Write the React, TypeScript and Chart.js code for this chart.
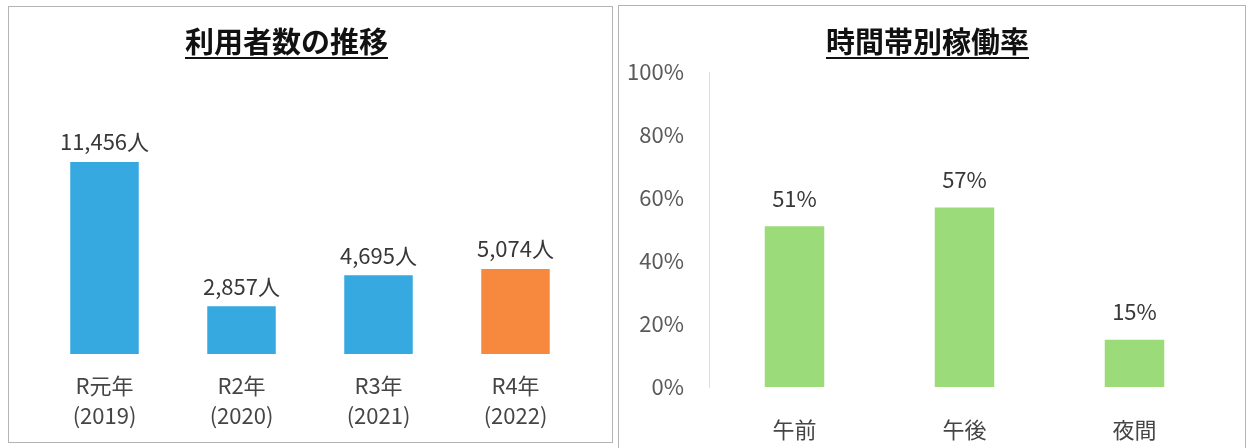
import React, { useEffect, useRef } from "react";
import { Chart, registerables } from "chart.js";

Chart.register(...registerables);

const FONT = '"Noto Sans CJK JP", "Noto Sans", sans-serif';

// Left chart: users per year
const userTitle = "利用者数の推移";
const userCategories: string[][] = [
  ["R元年", "(2019)"],
  ["R2年", "(2020)"],
  ["R3年", "(2021)"],
  ["R4年", "(2022)"],
];
const userValues = [11456, 2857, 4695, 5074];
const userColors = ["#36A9E1", "#36A9E1", "#36A9E1", "#F7893F"];
const userMax = 14000;

// Right chart: utilisation rate by time band
const rateTitle = "時間帯別稼働率";
const rateCategories = ["午前", "午後", "夜間"];
const rateValues = [51, 57, 15];
const rateColor = "#9BDB7A";
const rateTicks = [0, 20, 40, 60, 80, 100];

function valueLabelPlugin(fmt: (v: number) => string, offset: number) {
  return {
    id: "valueLabels",
    afterDatasetsDraw(chart: any) {
      const ctx = chart.ctx;
      const meta = chart.getDatasetMeta(0);
      const data = chart.data.datasets[0].data as number[];
      ctx.save();
      ctx.font = `22px ${FONT}`;
      ctx.fillStyle = "#383838";
      ctx.textAlign = "center";
      ctx.textBaseline = "middle";
      meta.data.forEach((bar: any, i: number) => {
        ctx.fillText(fmt(data[i]), bar.x, bar.y - offset);
      });
      ctx.restore();
    },
  };
}

function UsersChart() {
  const ref = useRef<HTMLCanvasElement>(null);
  useEffect(() => {
    const chart = new Chart(ref.current!, {
      type: "bar",
      data: {
        labels: userCategories,
        datasets: [
          {
            data: userValues,
            backgroundColor: userColors,
            categoryPercentage: 1,
            barPercentage: 0.5,
          },
        ],
      },
      options: {
        animation: false,
        responsive: false,
        maintainAspectRatio: false,
        layout: { padding: { left: 27, right: 28, top: 112.5, bottom: 39 } },
        plugins: { legend: { display: false }, tooltip: { enabled: false } },
        scales: {
          x: {
            grid: { display: false, drawTicks: false, tickLength: 0 },
            border: { display: false },
            ticks: {
              padding: 17,
              color: "#454545",
              font: { family: FONT, size: 22, lineHeight: 30 / 22 },
              maxRotation: 0,
              autoSkip: false,
            },
          },
          y: {
            display: false,
            min: 0,
            max: userMax,
          },
        },
      },
      plugins: [valueLabelPlugin((v) => v.toLocaleString("en-US") + "人", 20)],
    });
    return () => chart.destroy();
  }, []);
  return (
    <canvas
      ref={ref}
      width={603}
      height={480}
      style={{ position: "absolute", left: 9, top: 7, width: 603, height: 480 }}
    />
  );
}

function RateChart() {
  const ref = useRef<HTMLCanvasElement>(null);
  useEffect(() => {
    const chart = new Chart(ref.current!, {
      type: "bar",
      data: {
        labels: rateCategories,
        datasets: [
          {
            data: rateValues,
            backgroundColor: rateColor,
            categoryPercentage: 1,
            barPercentage: 0.35,
          },
        ],
      },
      options: {
        animation: false,
        responsive: false,
        maintainAspectRatio: false,
        layout: { padding: { left: 0, right: 24.5, top: 65, bottom: 14 } },
        plugins: { legend: { display: false }, tooltip: { enabled: false } },
        scales: {
          x: {
            grid: { display: false, drawTicks: false, tickLength: 0 },
            border: { display: false },
            ticks: {
              padding: 28,
              color: "#454545",
              font: { family: FONT, size: 22, lineHeight: 30 / 22 },
              maxRotation: 0,
            },
          },
          y: {
            min: 0,
            max: 100,
            afterFit: (scale: any) => {
              scale.width = 89.5;
            },
            afterBuildTicks: (scale: any) => {
              scale.ticks = rateTicks.map((v) => ({ value: v }));
            },
            grid: { display: false, drawTicks: false, tickLength: 0 },
            border: { display: true, color: "#dedede", width: 1, dash: [2, 2] },
            ticks: {
              padding: 25.5,
              color: "#5a5a5a",
              font: { family: FONT, size: 22, lineHeight: 1.2 },
              callback: (v: any) => v + "%",
            },
          },
        },
      },
      plugins: [valueLabelPlugin((v) => v + "%", 28)],
    });
    return () => chart.destroy();
  }, []);
  return (
    <canvas
      ref={ref}
      width={624}
      height={480}
      style={{ position: "absolute", left: 620, top: 7, width: 624, height: 480 }}
    />
  );
}

const titleStyle = (cx: number): React.CSSProperties => ({
  position: "absolute",
  left: cx,
  top: 25,
  transform: "translateX(-50%)",
  fontFamily: FONT,
  fontWeight: 700,
  fontSize: 29,
  lineHeight: "30px",
  color: "#111",
  whiteSpace: "nowrap",
  textDecoration: "underline",
  textDecorationThickness: "2px",
  textUnderlineOffset: "4px",
});

export default function App() {
  return (
    <div
      style={{
        position: "fixed",
        left: 0,
        top: 0,
        width: 1256,
        height: 448,
        overflow: "hidden",
        background: "#ffffff",
      }}
    >
      <UsersChart />
      <RateChart />
      <div
        style={{
          position: "absolute",
          left: 8,
          top: 6,
          width: 605,
          height: 437,
          boxSizing: "border-box",
          border: "1px solid #b4b4b4",
          pointerEvents: "none",
        }}
      />
      <div
        style={{
          position: "absolute",
          left: 618,
          top: 5,
          width: 628,
          height: 500,
          boxSizing: "border-box",
          border: "1px solid #b4b4b4",
          pointerEvents: "none",
        }}
      />
      <div style={titleStyle(286.5)}>{userTitle}</div>
      <div style={titleStyle(927.5)}>{rateTitle}</div>
    </div>
  );
}
